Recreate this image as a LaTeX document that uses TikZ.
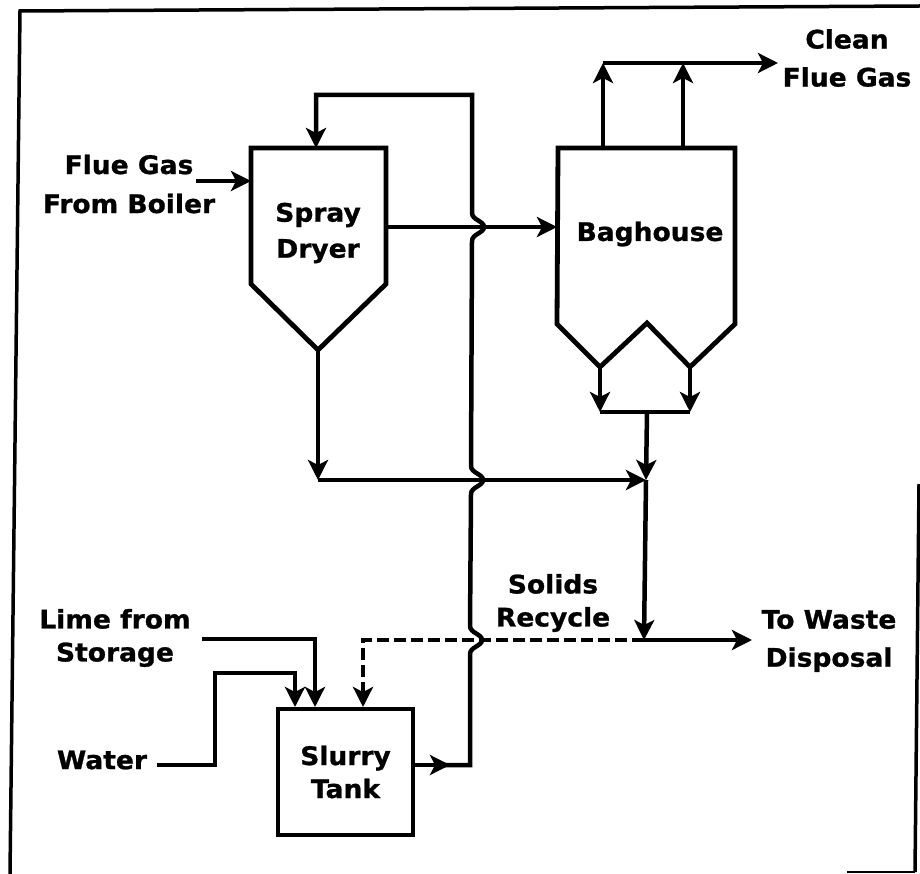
\documentclass[tikz,border=0pt]{standalone}
\usepackage{fontspec}
\usetikzlibrary{arrows.meta}
\newfontfamily\lblfont{DejaVu Sans Bold}[FakeStretch=1.04,FakeBold=1]
\begin{document}
\begin{tikzpicture}[x=1pt,y=-1pt,
  pipe/.style={line width=4.5pt,line join=miter},
  arr/.style={pipe,-{Stealth[length=20pt,width=20pt,inset=5pt]}},
  vessel/.style={line width=4.8pt,line join=miter},
  recycleline/.style={dash pattern=on 12pt off 5pt},
  lbl/.style={font=\lblfont\fontsize{25.5}{37}\selectfont,align=center,inner sep=0pt},
  frameline/.style={line width=3.5pt}]
\useasboundingbox (0,0) rectangle (920,874);
% frame (scanned page border)
\draw[frameline] (10,874) -- (20,11) -- (920,6);
\draw[frameline] (919,484) -- (915,872);
\draw[line width=1.5pt] (915,872) -- (847,872);

% Spray dryer
\draw[vessel] (251,148) -- (386,148) -- (386,284) -- (318,350) -- (251,284) -- cycle;
\node[lbl,font=\lblfont\fontsize{25.5}{36}\selectfont] (sd) at (318,233) {Spray\\Dryer};
\coordinate (sdTop) at (316,148);
\coordinate (sdIn) at (251,181);
\coordinate (sdOut) at (386,227);
\coordinate (sdTip) at (318,350);

% Baghouse
\draw[vessel] (558,148) -- (735,148) -- (735,324) -- (690,367) -- (647,323) -- (600,367) -- (557,324) -- cycle;
\node[lbl] (bh) at (650,234) {Baghouse};
\coordinate (bhIn) at (557,227);
\coordinate (bhTopL) at (603,148);
\coordinate (bhTopR) at (683,148);
\coordinate (bhBotL) at (600,367);
\coordinate (bhBotR) at (690,367);

% Slurry tank
\node[draw,vessel,minimum width=135pt,minimum height=126pt,inner sep=0pt,
      font=\lblfont\fontsize{25.5}{33}\selectfont,align=center] (st) at (345.5,772) {Slurry\\Tank};

% labels
\node[lbl,font=\lblfont\fontsize{25.5}{39}\selectfont] (fg) at (129,184) {Flue Gas\\From Boiler};
\node[lbl,font=\lblfont\fontsize{25.5}{38}\selectfont] (cfg) at (847,58) {Clean\\Flue Gas};
\node[lbl,font=\lblfont\fontsize{25.5}{33}\selectfont] (lime) at (115,638) {Lime from\\Storage};
\node[lbl] (water) at (102,760) {Water};
\node[lbl,font=\lblfont\fontsize{25.5}{33}\selectfont] (sr) at (553,603) {Solids\\Recycle};
\node[lbl,font=\lblfont\fontsize{25.5}{38}\selectfont] (tw) at (829,641) {To Waste\\Disposal};

% junction coordinates
\coordinate (cfgL) at (603,63);
\coordinate (cfgR) at (683,63);
\coordinate (cfgEnd) at (778,63);
\coordinate (collL) at (600,412);
\coordinate (collR) at (690,412);
\coordinate (collM) at (647,412);
\coordinate (j1) at (646,480);
\coordinate (c1) at (318,480);
\coordinate (j2) at (644,640);
\coordinate (wasteEnd) at (752,640);
\coordinate (dashC) at (363,640);
\coordinate (dashEnd) at (363,707);
\coordinate (limeS) at (202,639);
\coordinate (limeC) at (315,639);
\coordinate (limeEnd) at (315,707);
\coordinate (waterS) at (157,765);
\coordinate (waterEnd) at (295,707);
\coordinate (stOut) at (413,765);
\coordinate (stMid) at (450,765);
\coordinate (riseB) at (470,765);
\coordinate (riseT) at (472,95);
\coordinate (topL) at (316,95);
\coordinate (fgStart) at (196,181);

% flue gas in
\draw[arr] (fgStart) -- (sdIn);
% spray dryer to baghouse
\draw[arr] (sdOut) -- (bhIn);
% baghouse to clean flue gas
\draw[arr] (bhTopL) -- (cfgL);
\draw[arr] (bhTopR) -- (cfgR);
\draw[arr] (cfgL) -- (cfgEnd);
% baghouse hoppers
\draw[arr] (bhBotL) -- (collL);
\draw[arr] (bhBotR) -- (collR);
\draw[pipe] (collL) -- (collR);
\draw[arr] (collM) -- (j1);
\draw[arr] (j1) -- (j2);
\draw[arr] (j2) -- (wasteEnd);
% spray dryer solids
\draw[arr] (sdTip) -- (c1);
\draw[arr] (c1) -- (j1);
% solids recycle (dashed)
\draw[arr,recycleline] (j2) -- (dashC) -- (dashEnd);
% lime and water
\draw[arr] (limeS) -- (limeC) -- (limeEnd);
\draw[arr] (waterS) -- (215,765) -- (215,673) -- (295,673) -- (waterEnd);
% slurry to spray dryer (with line hops)
\draw[arr] (stOut) -- (stMid);
\draw[arr] (438,765) -- (riseB)
  -- (470,654) .. controls (470,647) and (482,646) .. (482,640)
  .. controls (482,634) and (470,633) .. (470,626)
  -- (471,494) .. controls (471,487) and (483,486) .. (483,480)
  .. controls (483,474) and (471,473) .. (471,466)
  -- (472,241) .. controls (472,234) and (484,233) .. (484,227)
  .. controls (484,221) and (472,220) .. (472,213)
  -- (riseT) -- (topL) -- (sdTop);
\end{tikzpicture}
\end{document}
